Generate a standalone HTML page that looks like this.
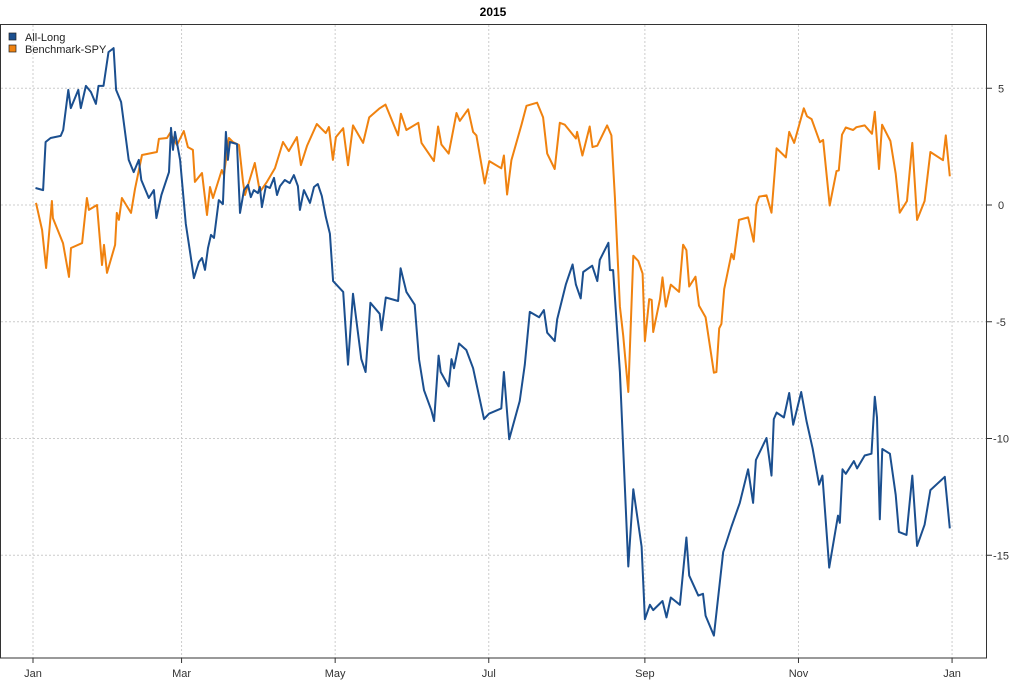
<!DOCTYPE html>
<html><head><meta charset="utf-8"><style>
html,body{margin:0;padding:0;background:#fff;}
svg text{font-family:"Liberation Sans",sans-serif;}
</style></head><body>
<svg id="chart" width="1024" height="683" xmlns="http://www.w3.org/2000/svg">
<text x="493" y="16" text-anchor="middle" font-size="12" font-weight="bold" fill="#000">2015</text>
<g id="grid"></g>
<g id="series"></g>
<rect x="0.5" y="24.5" width="986" height="633.5" fill="none" stroke="#333" stroke-width="1"/>
<g id="axes"></g>
<g>
<rect x="9" y="33" width="7" height="7" fill="#1b4f8f" stroke="#222" stroke-width="0.7"/>
<text x="25" y="41" font-size="11" fill="#222">All-Long</text>
<rect x="9" y="45" width="7" height="7" fill="#f0820f" stroke="#222" stroke-width="0.7"/>
<text x="25" y="53" font-size="11" fill="#222">Benchmark-SPY</text>
</g>
</svg>
<script>
const monthLabels=["Jan","Mar","May","Jul","Sep","Nov","Jan"];
const monthDays=[0,59,120,181,243,304,365];
const yTicks=[5,0,-5,-10,-15];
const longDays=[1,4,5,7,11,12,14,15,18,19,21,23,25,26,28,30,32,33,35,38,40,42,43,46,48,49,51,54,54.8,55.6,56.4,58.4,60.7,62.3,63.9,65.9,67.1,68.3,69.5,70.7,71.9,73.8,75.4,76.6,77.4,78.2,81,82.2,83.8,85.4,86.5,87.7,89.3,90.1,90.9,92.5,94.1,95.7,96.9,98.1,100,102,103.6,105.2,106,107.6,110,111.6,113.1,114.7,116.3,117.9,119.2,123.2,125.1,127.1,130.4,132.1,134,137.7,138.4,140.1,145,146,148.3,151.6,153.3,155.3,158.2,159.3,161.1,161.9,165.1,166.2,167.2,169.2,172.1,174.8,179.1,181.1,186,187,189.1,193.3,195.3,197.3,201,202.9,204.2,207.2,208.2,211.6,214.3,215.6,217.5,218.5,222.1,224.1,225.1,228.5,229.1,230.4,233.1,236.4,238.4,241.7,243,245,246.3,250,251.6,253.3,256.9,259.5,260.6,264.2,266.1,267.1,270.4,274.1,277.4,280.7,284,286,287.1,291.3,293.3,294.2,295.3,298.2,300.3,301.9,305.1,307.2,309.6,312.2,313.5,316.2,319.7,320.4,321.5,322.8,326,327.3,330.3,333,334.3,335.2,336.3,337.3,340.3,342.6,343.9,346.9,349.2,351.1,354.1,356.4,362.1,364.1];
const longVals=[0.73,0.64,2.7,2.87,2.96,3.21,4.93,4.15,4.93,4.15,5.1,4.84,4.33,5.1,5.1,6.55,6.72,4.93,4.41,1.93,1.41,1.93,1.07,0.3,0.64,-0.56,0.43,1.41,3.3,2.36,3.13,1.93,-0.81,-1.97,-3.13,-2.44,-2.27,-2.78,-1.84,-1.28,-1.41,0.21,0.04,3.13,1.93,2.7,2.61,-0.34,0.64,0.86,0.34,0.64,0.51,0.77,-0.09,0.81,0.73,1.16,0.43,0.81,1.07,0.94,1.28,0.81,-0.21,0.64,0.09,0.77,0.9,0.39,-0.51,-1.23,-3.26,-3.72,-6.84,-3.8,-6.6,-7.15,-4.19,-4.66,-5.36,-3.96,-4.11,-2.71,-3.72,-4.27,-6.6,-7.93,-8.79,-9.25,-6.45,-7.15,-7.77,-6.6,-6.99,-5.93,-6.21,-6.99,-9.17,-8.94,-8.71,-7.15,-10.03,-8.4,-6.84,-4.58,-4.81,-4.5,-5.47,-5.83,-4.89,-3.41,-2.55,-3.41,-4,-2.87,-2.6,-3.26,-2.35,-1.62,-2.79,-2.79,-7.15,-15.48,-12.17,-14.63,-17.74,-17.12,-17.35,-16.96,-17.66,-16.81,-17.12,-14.24,-15.87,-16.73,-16.65,-17.59,-18.44,-14.86,-13.77,-12.76,-11.32,-12.76,-10.92,-9.98,-11.59,-9.17,-8.89,-9.1,-8.05,-9.41,-8.01,-9.25,-10.42,-11.98,-11.59,-15.53,-13.3,-13.61,-11.32,-11.51,-10.97,-11.28,-10.73,-10.65,-8.21,-9.1,-13.46,-10.45,-10.65,-12.41,-14,-14.13,-11.59,-14.6,-13.69,-12.21,-11.64,-13.85];
const spyDays=[1.2,3.6,5.2,7.5,7.9,11.9,14.3,15.1,19.5,21.4,22.2,25.4,27.4,28.2,29.4,32.6,33.3,34.1,35.3,38.9,40.5,43.3,49.2,50,53.2,54.4,57.2,59.9,61.5,63.5,64.3,67.1,69.1,70.3,71.5,75,75.8,77.8,79.4,81.8,83.4,84.2,88.1,90.1,92.9,96.1,99.3,101.6,104.8,106.4,108.8,112.7,116.3,117.5,119.1,120.3,123.2,125.1,127.1,131.1,133.5,137.7,140,145,146.1,148.3,153,154.3,159.2,160.9,162.2,165.1,168.2,169.5,172.8,174.8,176.1,179.4,181.2,186,187,188.3,190,194,196,200.2,202.6,204.2,207.2,209.2,211.2,215.6,216.1,218.2,221.1,222.2,224.1,228,229.7,231.1,233.1,234.4,236.4,238.4,240.4,242.1,243,244.7,245.7,246.3,249,250,251.3,253.3,256.6,258.2,259.5,260.6,263.1,264.5,267.1,270.4,271.4,272.5,273.4,274.5,277.4,278.3,280.4,284,286.2,287.3,288.4,291.3,293.3,295.3,299,300.3,302.3,306.1,307.4,309.2,312.5,313.8,316.4,319.1,320,321.3,322.8,325.7,327,330.3,333.2,334.3,336,337.2,340.5,342.6,344.2,347.1,349.2,351.1,354.1,356.4,361.4,362.5,364.1];
const spyVals=[0.09,-1.07,-2.7,0.17,-0.56,-1.63,-3.08,-1.84,-1.63,0.3,-0.21,0,-2.57,-1.71,-2.91,-1.71,-0.34,-0.64,0.3,-0.34,0.69,2.14,2.27,2.83,2.87,3.08,2.57,3.17,2.48,2.36,0.99,1.37,-0.43,0.77,0.3,1.5,1.28,2.87,2.7,2.57,0.99,0.43,1.8,0.56,0.99,1.58,2.7,2.31,2.91,1.71,2.53,3.47,3.08,3.34,1.93,2.91,3.29,1.7,3.41,2.66,3.75,4.14,4.3,2.98,3.91,3.21,3.52,2.66,1.88,3.36,2.59,2.2,3.94,3.6,4.1,3.13,2.98,0.92,1.88,1.57,2.12,0.45,1.92,3.44,4.25,4.38,3.75,2.2,1.54,3.52,3.44,2.85,3.13,2.12,3.36,2.48,2.54,3.41,2.98,0.33,-4.35,-5.59,-8.01,-2.17,-2.4,-2.94,-5.83,-4.03,-4.07,-5.44,-4.03,-3.1,-4.35,-3.41,-3.72,-1.7,-1.93,-3.49,-3.07,-4.31,-4.81,-7.18,-7.15,-5.28,-5.09,-3.6,-2.09,-2.32,-0.64,-0.53,-1.57,0.02,0.36,0.41,-0.33,2.43,2.04,3.13,2.66,4.14,3.8,3.68,2.69,2.79,-0.02,1.45,1.48,3.01,3.32,3.21,3.33,3.41,3.05,3.99,1.54,3.44,2.74,1.34,-0.33,0.17,2.66,-0.64,0.17,2.27,1.92,2.98,1.23];

const NS="http://www.w3.org/2000/svg";
function xS(d){return 33+d*2.518;}
function yS(v){return 205-v*23.35;}
const grid=document.getElementById('grid'),axes=document.getElementById('axes'),series=document.getElementById('series');
function mk(tag,attrs,parent){const e=document.createElementNS(NS,tag);for(const k in attrs)e.setAttribute(k,attrs[k]);parent.appendChild(e);return e;}
yTicks.forEach(function(v){
  const g=mk('line',{x1:1,x2:986,y1:yS(v),y2:yS(v),stroke:'#ccc','stroke-dasharray':'2,2'},grid);
  
  
  const t=mk('line',{x1:987,x2:992,y1:yS(v),y2:yS(v),stroke:'#333'},axes);
  
  
  const l=mk('text',{x:1001,y:yS(v)+4,'text-anchor':'middle','font-size':'11',fill:'#333'},axes);
  l.textContent=String(v);
  
  
});
monthDays.forEach(function(d,i){
  const g=mk('line',{x1:xS(d),x2:xS(d),y1:25,y2:658,stroke:'#ccc','stroke-dasharray':'2,2'},grid);
  
  
  const t=mk('line',{x1:xS(d),x2:xS(d),y1:658,y2:663,stroke:'#333'},axes);
  
  
  const l=mk('text',{x:xS(d),y:677,'text-anchor':'middle','font-size':'11',fill:'#333'},axes);
  l.textContent=monthLabels[i];
  
  
});
function line(days,vals,color,name){
  const pts=days.map(function(d,i){return xS(d).toFixed(1)+','+yS(vals[i]).toFixed(1);}).join(' ');
  const p=mk('polyline',{points:pts,fill:'none',stroke:color,'stroke-width':'2','stroke-linejoin':'round'},series);
  
  
}
line(spyDays,spyVals,'#f0820f','benchmark-spy-line');
line(longDays,longVals,'#1b4f8f','all-long-line');
</script>
</body></html>
